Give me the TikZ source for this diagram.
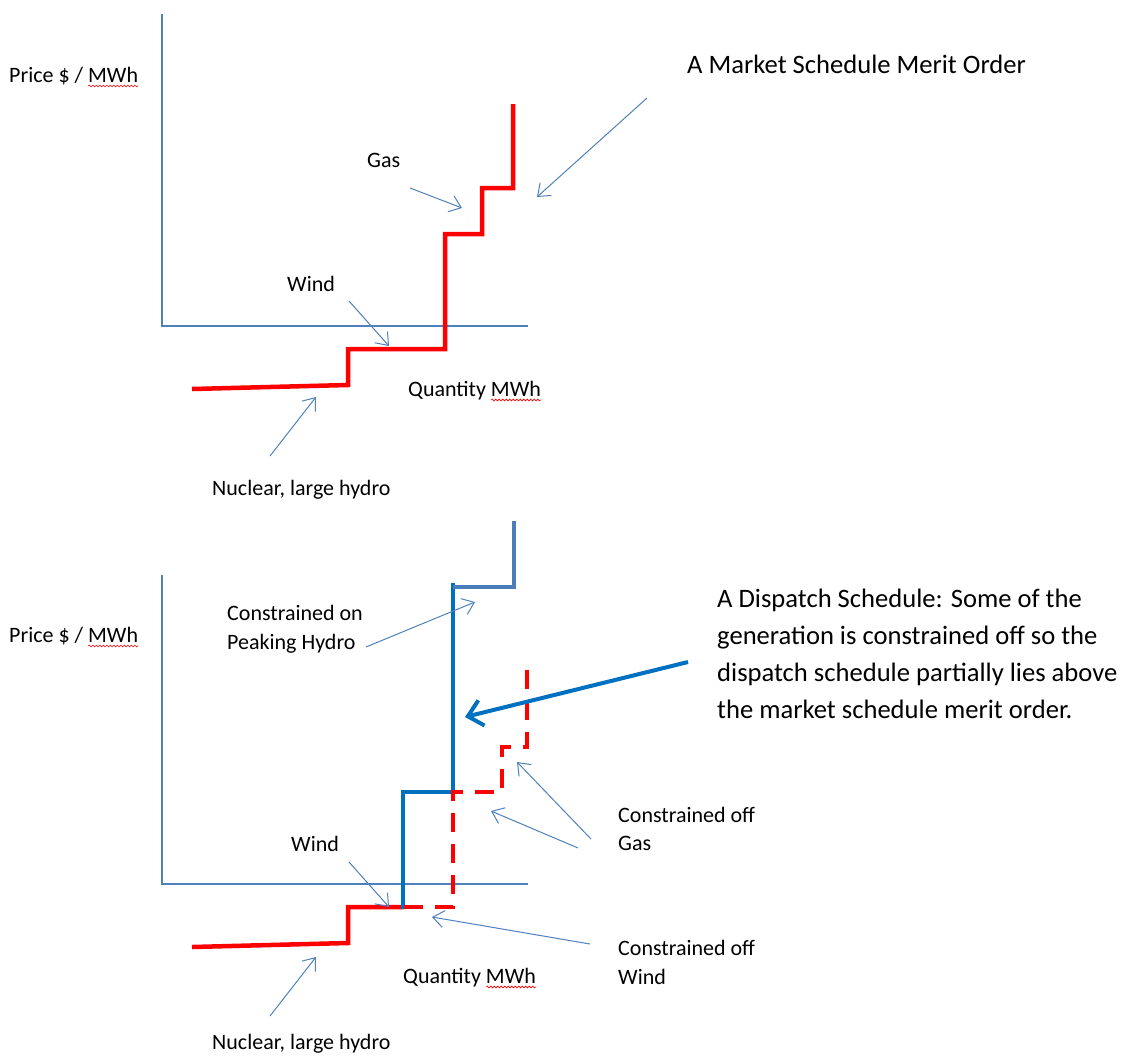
\documentclass[tikz,border=0pt]{standalone}
\usepackage{fontspec}
\setmainfont{Carlito}
\usetikzlibrary{arrows.meta,decorations.pathmorphing,calc}
\definecolor{axisblue}{HTML}{4F81BD}
\definecolor{mred}{HTML}{FF0000}
\definecolor{dblue}{HTML}{0070C0}
\definecolor{steel}{HTML}{4A7EBB}
\begin{document}
\begin{tikzpicture}[x=1pt,y=-1pt,
  lbl/.style={anchor=base west, inner sep=0pt, font=\fontsize{22}{26}\selectfont, text=black},
  big/.style={anchor=base west, inner sep=0pt, font=\fontsize{26.6}{32}\selectfont, text=black},
  axisline/.style={draw=axisblue, line width=1.2pt},
  pointer/.style={draw=axisblue, line width=1pt, -{Straight Barb[length=11pt,width=17pt]}},
  thickpointer/.style={draw=dblue, line width=4pt, -{Straight Barb[length=14pt,width=26pt]}},
  merit/.style={draw=mred, line width=4.5pt},
  offline/.style={merit, dash pattern=on 19pt off 12pt},
  disp/.style={draw=dblue, line width=4pt},
  peak/.style={draw=steel, line width=3.5pt},
  spell/.style={draw=red, line width=0.6pt, decorate, decoration={snake, amplitude=0.9pt, segment length=3.5pt}}
]
\useasboundingbox[fill=white] (0,0) rectangle (1124,1055);

% ---------------- top chart ----------------
\draw[axisline] (162,14) -- (162,326) -- (528,326);
\draw[merit] (192,389) -- (348,385) -- (348,349) -- (445,349) -- (445,234)
  -- (482,234) -- (482,188) -- (513,188) -- (513,104);

\node[lbl] (p1) at (9,82) {Price \$ / MWh};
\node[lbl] (q1) at (408,396) {Quantity MWh};
\node[lbl] (gas1) at (367,167) {Gas};
\node[lbl] (wind1) at (287,291) {Wind};
\node[lbl] (nuc1) at (212,495) {Nuclear, large hydro};
\node[big] (title1) at (687,73) {A Market Schedule Merit Order};

\draw[spell] ($(p1.base east)+(-50,4)$) -- ($(p1.base east)+(0,4)$);
\draw[spell] ($(q1.base east)+(-50,4)$) -- ($(q1.base east)+(0,4)$);

\coordinate (gasA) at (410,188);  \coordinate (gasB) at (462,208);
\coordinate (mA) at (647,98);     \coordinate (mB) at (537,197);
\coordinate (wA) at (349,301);    \coordinate (wB) at (389,346);
\coordinate (nA) at (270,456);    \coordinate (nB) at (316,397);
\draw[pointer] (gasA) -- (gasB);
\draw[pointer] (mA) -- (mB);
\draw[pointer] (wA) -- (wB);
\draw[pointer] (nA) -- (nB);

% ---------------- bottom chart ----------------
\draw[axisline] (162,575) -- (162,884) -- (528,884);
\draw[merit] (192,947) -- (348,943) -- (348,907) -- (404,907);
\draw[disp] (403,909) -- (403,792) -- (453,792) -- (453,583);
\draw[peak] (453,587) -- (514,587) -- (514,521);
\draw[offline] (404,907) -- (453,907) -- (453,792) -- (502,792) -- (502,747)
  -- (527,747) -- (527,663);

\node[lbl] (p2) at (9,642) {Price \$ / MWh};
\node[lbl] (q2) at (403,983) {Quantity MWh};
\node[lbl] (wind2) at (291,851) {Wind};
\node[lbl] (nuc2) at (212,1049) {Nuclear, large hydro};
\node[lbl] (con1) at (227,620) {Constrained on};
\node[lbl] (con2) at (227,649) {Peaking Hydro};
\node[lbl] (cog1) at (618,822) {Constrained off};
\node[lbl] (cog2) at (618,850) {Gas};
\node[lbl] (cow1) at (618,955) {Constrained off};
\node[lbl] (cow2) at (618,984) {Wind};
\node[big] (d1) at (717,607) {A Dispatch Schedule: Some of the};
\node[big] (d2) at (717,644) {generation is constrained off so the};
\node[big] (d3) at (717,681) {dispatch schedule partially lies above};
\node[big] (d4) at (717,718) {the market schedule merit order.};

\draw[spell] ($(p2.base east)+(-50,4)$) -- ($(p2.base east)+(0,4)$);
\draw[spell] ($(q2.base east)+(-50,4)$) -- ($(q2.base east)+(0,4)$);

\coordinate (hA) at (366,647);   \coordinate (hB) at (475,602);
\coordinate (dA) at (688,662);   \coordinate (dB) at (465,717);
\coordinate (g1A) at (591,839);  \coordinate (g1B) at (517,762);
\coordinate (g2A) at (578,848);  \coordinate (g2B) at (491,811);
\coordinate (cwA) at (590,944);  \coordinate (cwB) at (432,917);
\coordinate (w2A) at (349,862);  \coordinate (w2B) at (389,907);
\coordinate (n2A) at (270,1016); \coordinate (n2B) at (316,957);
\draw[pointer] (hA) -- (hB);
\draw[thickpointer] (dA) -- (dB);
\draw[pointer] (g1A) -- (g1B);
\draw[pointer] (g2A) -- (g2B);
\draw[pointer] (cwA) -- (cwB);
\draw[pointer] (w2A) -- (w2B);
\draw[pointer] (n2A) -- (n2B);
\end{tikzpicture}
\end{document}
